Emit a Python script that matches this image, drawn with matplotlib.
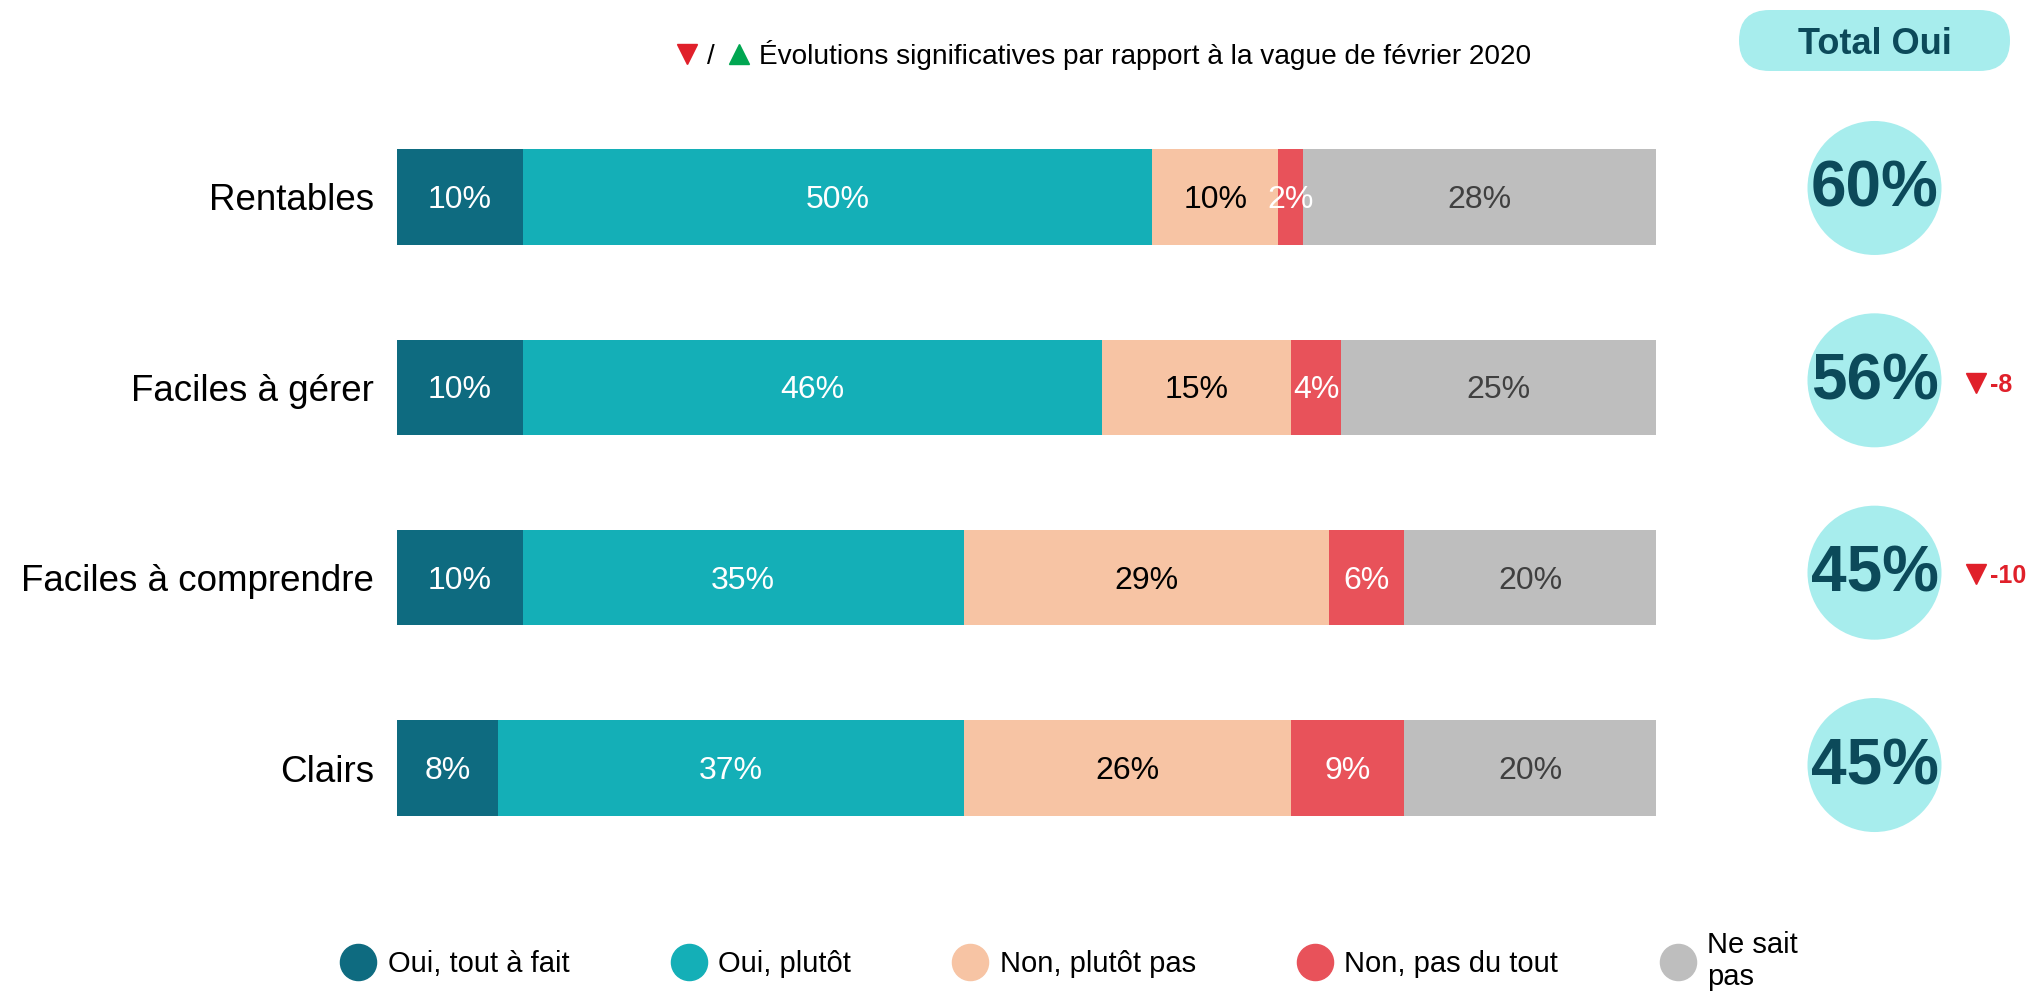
import matplotlib
matplotlib.use("Agg")
import matplotlib.pyplot as plt
from matplotlib.patches import Circle, FancyBboxPatch
from matplotlib.lines import Line2D
from matplotlib.transforms import offset_copy

plt.rcParams['font.family'] = ['Liberation Sans', 'DejaVu Sans']

# Survey results (percentages)
categories = ["Rentables", "Faciles à gérer", "Faciles à comprendre", "Clairs"]
series_names = ["Oui, tout à fait", "Oui, plutôt", "Non, plutôt pas",
                "Non, pas du tout", "Ne sait\npas"]
oui_tout_a_fait = [10, 10, 10, 8]
oui_plutot = [50, 46, 35, 37]
non_plutot_pas = [10, 15, 29, 26]
non_pas_du_tout = [2, 4, 6, 9]
ne_sait_pas = [28, 25, 20, 20]
evolutions = [None, -8, -10, None]

series = [oui_tout_a_fait, oui_plutot, non_plutot_pas, non_pas_du_tout, ne_sait_pas]
colors = ["#0e6b80", "#14afb7", "#f7c4a4", "#e8525a", "#bebebe"]
label_colors = ["white", "white", "black", "white", "#404040"]

W, H = 2028, 994
fig = plt.figure(figsize=(W / 100, H / 100), dpi=100)

# Main stacked bar axes
ax = fig.add_axes([397 / W, 1 - 863.2 / H, 1259 / W, 761.4 / H])
label_tr = offset_copy(ax.transData, fig=fig, x=0, y=-3, units="dots")
rows = list(range(len(categories)))
left = [0] * len(categories)
for vals, col, lcol in zip(series, colors, label_colors):
    ax.barh(rows, vals, left=left, height=0.5, color=col, edgecolor="none")
    for r, v, l in zip(rows, vals, left):
        ax.text(l + v / 2, r, f"{v}%", ha="center", va="center",
                fontsize=23, color=lcol, transform=label_tr)
    left = [l + v for l, v in zip(left, vals)]

ax.set_xlim(0, 100)
ax.set_ylim(3.5, -0.5)
ax.set_yticks(rows)
ax.set_yticklabels(categories, fontsize=26.5)
ax.tick_params(axis="y", length=0, pad=16.5)
ax.set_xticks([])
for s in ax.spines.values():
    s.set_visible(False)

# Overlay in pixel coordinates for decorations
ov = fig.add_axes([0, 0, 1, 1], zorder=3)
ov.set_xlim(0, W)
ov.set_ylim(H, 0)
ov.axis("off")


def row_y(i):
    return H - ax.transData.transform((0, i))[1]


circle_x = 1874.5
for i in rows:
    yc = row_y(i) - 9 + 2 * i
    ov.add_patch(Circle((circle_x, yc), 67, facecolor="#a7eded", edgecolor="none"))
    total = oui_tout_a_fait[i] + oui_plutot[i]
    ov.text(circle_x, yc + 2, f"{total}%", ha="center", va="center",
            fontsize=46, fontweight="bold", color="#0c4a5a")
    d = evolutions[i]
    if d is not None:
        marker = "v" if d < 0 else "^"
        mcol = "#e0202a" if d < 0 else "#00a651"
        ym = row_y(i) - 4
        ov.plot(1976, ym, marker=marker, ms=15, color=mcol, ls="")
        ov.text(1990, ym + 2, f"{d:+d}" if d > 0 else f"{d}", ha="left",
                va="center", fontsize=18, fontweight="bold", color=mcol)

# "Total Oui" header pill
ov.add_patch(FancyBboxPatch((1739, 10), 271, 61,
                            boxstyle="round,pad=0,rounding_size=30.5",
                            facecolor="#a7eded", edgecolor="none"))
ov.text(circle_x, 44, "Total Oui", ha="center", va="center",
        fontsize=26, fontweight="bold", color="#0c4a5a")

# Significance note
ov.plot(687, 54, marker="v", ms=15, color="#e0202a", ls="")
ov.text(711, 64, "/", ha="center", va="baseline", fontsize=20, color="black")
ov.plot(739, 54, marker="^", ms=15, color="#00a651", ls="")
ov.text(759, 64, "Évolutions significatives par rapport à la vague de février 2020",
        ha="left", va="baseline", fontsize=20.2, color="black")

# Legend
handles = [Line2D([], [], marker="o", ls="", ms=26, markerfacecolor=c,
                  markeredgecolor=c) for c in colors]
fig.legend(handles, series_names, loc="center", bbox_to_anchor=(0.528, 0.033),
           ncol=5, frameon=False, fontsize=21, handlelength=1.0,
           handletextpad=0.5, columnspacing=3.6)

fig.savefig("out.png", dpi=100)
